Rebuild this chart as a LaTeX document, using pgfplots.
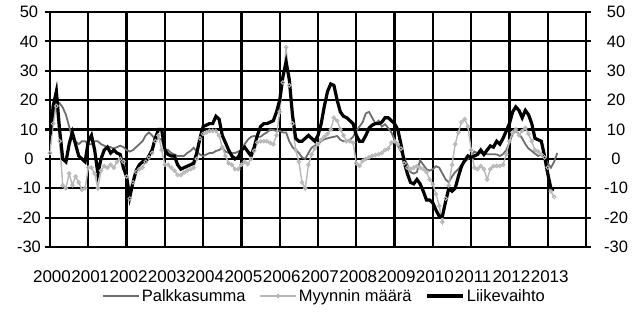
\documentclass[border=0pt]{standalone}
\usepackage{fontspec}
\setmainfont{Liberation Sans}
\usepackage{pgfplots}
\usepackage{pgfplotstable}
\pgfplotsset{compat=1.18}
\definecolor{palk}{HTML}{6E6E6E}
\definecolor{myyn}{HTML}{B8B8B8}

\pgfplotstableread{
m v
0 8
1 15
2 19
3 19
4 17.5
5 15
6 11
7 7
8 6
9 5
10 6
11 6
12 5
13 5
14 6
15 6
16 5
17 4.5
18 4
19 4
20 3.5
21 4
22 4.5
23 4
24 3
25 2.5
26 3
27 4
28 5
29 6
30 8
31 9
32 8
33 6.5
34 7
35 6.5
36 3.3
37 3
38 2
39 1.5
40 1
41 1
42 1
43 2
44 2.7
45 3.8
46 2.5
47 1.5
48 1
49 1.5
50 2
51 2
52 2.7
53 3
54 3.8
55 2.5
56 2
57 2
58 2
59 2.5
60 3
61 5
62 6.5
63 7.5
64 7.8
65 7.5
66 7.5
67 8.4
68 9
69 10
70 9.8
71 9.5
72 9.5
73 9
74 9
75 6
76 4
77 3
78 2
79 0.5
80 0
81 2
82 3.8
83 4.5
84 5
85 6
86 6.7
87 7
88 7.3
89 7.5
90 7.8
91 6.5
92 6
93 6
94 6.5
95 7.5
96 9.5
97 11
98 12.5
99 15.5
100 16
101 14
102 12
103 13
104 11
105 11.8
106 10.5
107 9
108 6.5
109 4.5
110 2.5
111 0.5
112 -2
113 -4.5
114 -5
115 -4.5
116 -0.5
117 -2
118 -3.5
119 -4
120 -3.5
121 -2.5
122 -3
123 -5
124 -7
125 -8
126 -6
127 -4.5
128 -3.5
129 -2
130 -1
131 0
132 1
133 2.5
134 2
135 2
136 1.8
137 1.6
138 1.6
139 1.6
140 1.5
141 1
142 1.6
143 3
144 5.5
145 8.5
146 9.5
147 8.5
148 7
149 5
150 3.5
151 2.7
152 1.8
153 1
154 1.5
155 0.5
156 -1.5
157 -3
158 -1
159 2
}\palkka

\pgfplotstableread{
m v
0 2
1 12
2 18
3 6
4 -9
5 -10
6 -5
7 -9
8 -6
9 -8
10 -10.5
11 -10
12 -3
13 -3
14 -5
15 -10
16 -4
17 -2.5
18 -3
19 -2
20 -3
21 -1
22 0
23 -1
24 -6
25 -13.5
26 -8
27 -4.5
28 -3.5
29 -3
30 -1
31 0.5
32 2
33 6
34 8
35 3
36 -2
37 -2
38 -3
39 -4
40 -5.5
41 -5.5
42 -4.7
43 -4
44 -3.5
45 -3
46 0
47 7
48 8.5
49 9
50 9.5
51 9.5
52 9.5
53 8
54 4
55 1
56 -1.5
57 -2
58 -3.5
59 -3.5
60 -2
61 -1
62 -1.8
63 0
64 2.7
65 5.6
66 6
67 6
68 6
69 5.5
70 5
71 8
72 16
73 26
74 38
75 25
76 12
77 3
78 -1
79 -8
80 -10
81 -2
82 1.5
83 3.5
84 5
85 6.5
86 7.5
87 8.5
88 10
89 14
90 13
91 10
92 8
93 6
94 6
95 5.5
96 -1.5
97 -2.4
98 -0.7
99 0
100 0.5
101 1
102 1.3
103 1.6
104 2
105 3
106 3.5
107 5.5
108 6
109 5
110 3.5
111 -1.5
112 -3
113 -3.5
114 -3
115 -2.5
116 -3
117 -3.5
118 -4.5
119 -7
120 -8.6
121 -12
122 -16
123 -21.5
124 -13.5
125 -9
126 -2
127 5
128 9
129 12.5
130 13.5
131 11
132 3
133 -3
134 -3.5
135 -2.5
136 -3.5
137 -7
138 -3.5
139 -2.5
140 -2.4
141 -2.4
142 -2
143 1.5
144 6
145 9
146 10
147 8
148 9.5
149 10.5
150 8.5
151 6
152 3
153 2.5
154 1.5
155 0.5
156 -3
157 -11
158 -13
}\myynti

\pgfplotstableread{
m v
0 8
1 18
2 23
3 10
4 0
5 -1
6 5
7 9
8 5
9 1
10 0
11 -1
12 6
13 8
14 3
15 -5
16 0
17 3
18 4
19 2
20 3
21 2
22 1.5
23 -3
24 -6
25 -13
26 -8
27 -4
28 -2
29 -1
30 -1
31 1
32 3
33 7
34 10
35 10
36 3
37 1.5
38 1
39 1
40 -2
41 -3.5
42 -3
43 -2.5
44 -2
45 -1.5
46 2
47 7
48 11
49 11.5
50 12
51 12
52 14.5
53 13.5
54 8
55 5.5
56 3
57 1
58 0
59 0.5
60 3
61 4
62 2.5
63 1
64 4
65 8
66 11
67 12
68 12
69 12.5
70 13
71 16
72 20
73 28
74 33
75 27
76 15
77 7
78 6
79 6
80 7
81 8
82 7
83 6
84 8
85 12
86 18
87 23
88 25.5
89 25
90 20
91 16
92 14.5
93 14
94 13
95 12
96 8
97 6
98 6
99 8
100 10.5
101 11.5
102 12
103 12
104 12.5
105 14
106 14
107 13
108 12
109 10
110 5
111 -1
112 -5
113 -8
114 -8.5
115 -7
116 -8.5
117 -11
118 -14
119 -14
120 -15
121 -17.5
122 -19.5
123 -19.5
124 -14.5
125 -10
126 -11
127 -10
128 -6
129 -2.5
130 -0.5
131 1
132 0.5
133 1
134 1.5
135 3
136 1.5
137 3
138 4.4
139 4
140 6
141 5
142 7
143 9.5
144 12
145 16
146 17.7
147 16.5
148 14
149 16.5
150 15
151 12
152 7
153 6.5
154 6
155 1
156 -5
157 -10
158 -10.5
}\liike

\begin{document}
\begin{tikzpicture}
\path[use as bounding box] (-50pt,-67pt) rectangle (587pt,247pt);
\begin{axis}[
  at={(0pt,0pt)}, anchor=south west,
  scale only axis, width=536pt, height=235pt,
  xmin=0, xmax=168, ymin=-30, ymax=50,
  xtick={0,12,...,156},
  xticklabels={2000,2001,2002,2003,2004,2005,2006,2007,2008,2009,2010,2011,2012,2013},
  ytick={-30,-20,...,50},
  yticklabels={-30,-20,-10,0,10,20,30,40,50},
  ytick pos=left, xtick pos=bottom,
  xmajorgrids=true, ymajorgrids=true,
  every major grid/.style={draw=black, line width=2.2pt},
  axis line style={black, line width=2.2pt},
  tick align=outside, major tick length=5pt,
  ytick style={black, line width=2.2pt},
  xtick style={draw=none},
  xticklabel style={font=\fontsize{17}{20}\selectfont, yshift=-15pt, xshift=2pt},
  yticklabel style={font=\fontsize{16.5}{19}\selectfont, anchor=center, xshift=-16pt},
  legend style={at={(0.512,-0.2085)}, anchor=center, draw=none, fill=none,
    font=\fontsize{16.5}{19}\selectfont, /tikz/every even column/.append style={column sep=12pt}},
  legend columns=-1,
  legend image code/.code={\draw[mark repeat=2,mark phase=2,#1] plot coordinates {(0pt,0pt) (18pt,0pt) (36pt,0pt)};},
]
\addplot[palk, line width=1.8pt, mark=none] table[x=m,y=v]{\palkka};
\addlegendentry{Palkkasumma}
\addplot[myyn, line width=1.4pt, mark=o, mark size=1.8pt, mark options={line width=1pt}] table[x=m,y=v]{\myynti};
\addlegendentry{Myynnin määrä}
\addplot[black, line width=3.2pt, mark=none] table[x=m,y=v]{\liike};
\addlegendentry{Liikevaihto}
\end{axis}
\begin{axis}[
  at={(0pt,0pt)}, anchor=south west,
  scale only axis, width=536pt, height=235pt,
  xmin=0, xmax=168, ymin=-30, ymax=50,
  axis x line=none, axis y line*=right,
  axis line style={draw=none},
  ytick={-30,-20,...,50},
  yticklabels={-30,-20,-10,0,10,20,30,40,50},
  tick align=outside, major tick length=5pt,
  ytick style={black, line width=2.2pt},
  yticklabel style={font=\fontsize{16.5}{19}\selectfont, anchor=center, xshift=25pt},
]
\addplot[draw=none] coordinates {(0,0)};
\end{axis}
\end{tikzpicture}
\end{document}
